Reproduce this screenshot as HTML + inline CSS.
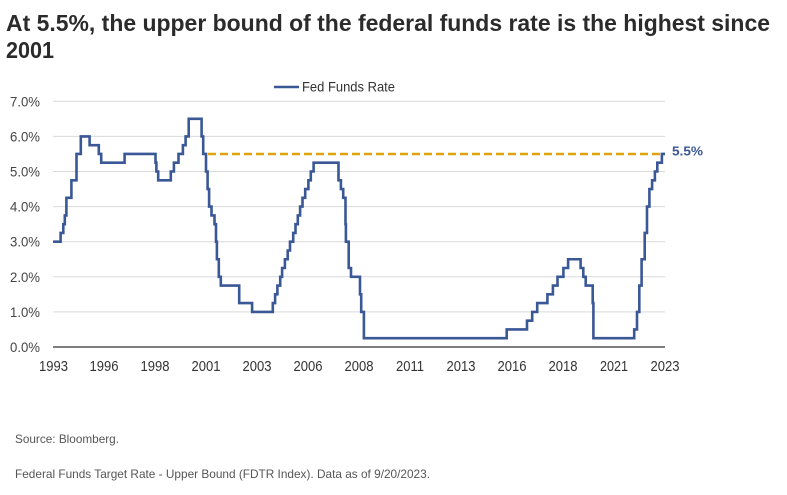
<!DOCTYPE html>
<html>
<head>
<meta charset="utf-8">
<style>
  html,body{margin:0;padding:0;background:#fff;}
  body{width:787px;height:495px;overflow:hidden;}
  svg{display:block;}
</style>
</head>
<body>
<svg width="787" height="495" viewBox="0 0 787 495" xmlns="http://www.w3.org/2000/svg">
  <rect width="787" height="495" fill="#ffffff"/>
  <!-- Title -->
  <text x="6" y="31" font-family="Liberation Sans, Arial, sans-serif" font-weight="bold" font-size="23" fill="#2b2b2b" textLength="764" lengthAdjust="spacingAndGlyphs">At 5.5%, the upper bound of the federal funds rate is the highest since</text>
  <text x="6" y="58" font-family="Liberation Sans, Arial, sans-serif" font-weight="bold" font-size="23" fill="#2b2b2b" textLength="48" lengthAdjust="spacingAndGlyphs">2001</text>

  <!-- Legend -->
  <line x1="274" y1="87" x2="299" y2="87" stroke="#3a5796" stroke-width="2.5"/>
  <text x="302" y="91.5" font-family="Liberation Sans, Arial, sans-serif" font-size="14" fill="#333" textLength="93" lengthAdjust="spacingAndGlyphs">Fed Funds Rate</text>

  <!-- Gridlines -->
  <g stroke="#d9d9d9" stroke-width="1">
    <line x1="53" y1="101.3" x2="665" y2="101.3"/>
    <line x1="53" y1="136.4" x2="665" y2="136.4"/>
    <line x1="53" y1="171.5" x2="665" y2="171.5"/>
    <line x1="53" y1="206.6" x2="665" y2="206.6"/>
    <line x1="53" y1="241.7" x2="665" y2="241.7"/>
    <line x1="53" y1="276.8" x2="665" y2="276.8"/>
    <line x1="53" y1="311.9" x2="665" y2="311.9"/>
  </g>
  <line x1="53" y1="347" x2="665" y2="347" stroke="#7f7f7f" stroke-width="2"/>

  <!-- Y labels -->
  <g font-family="Liberation Sans, Arial, sans-serif" font-size="14" fill="#444" text-anchor="end">
    <text x="40" y="106.3" textLength="30" lengthAdjust="spacingAndGlyphs">7.0%</text>
    <text x="40" y="141.4" textLength="30" lengthAdjust="spacingAndGlyphs">6.0%</text>
    <text x="40" y="176.5" textLength="30" lengthAdjust="spacingAndGlyphs">5.0%</text>
    <text x="40" y="211.6" textLength="30" lengthAdjust="spacingAndGlyphs">4.0%</text>
    <text x="40" y="246.7" textLength="30" lengthAdjust="spacingAndGlyphs">3.0%</text>
    <text x="40" y="281.8" textLength="30" lengthAdjust="spacingAndGlyphs">2.0%</text>
    <text x="40" y="316.9" textLength="30" lengthAdjust="spacingAndGlyphs">1.0%</text>
    <text x="40" y="352" textLength="30" lengthAdjust="spacingAndGlyphs">0.0%</text>
  </g>

  <!-- X labels -->
  <g font-family="Liberation Sans, Arial, sans-serif" font-size="14.5" fill="#333" text-anchor="middle">
    <text x="53.5" y="371" textLength="29" lengthAdjust="spacingAndGlyphs">1993</text>
    <text x="104" y="371" textLength="29" lengthAdjust="spacingAndGlyphs">1996</text>
    <text x="155" y="371" textLength="29" lengthAdjust="spacingAndGlyphs">1998</text>
    <text x="206" y="371" textLength="29" lengthAdjust="spacingAndGlyphs">2001</text>
    <text x="257" y="371" textLength="29" lengthAdjust="spacingAndGlyphs">2003</text>
    <text x="308" y="371" textLength="29" lengthAdjust="spacingAndGlyphs">2006</text>
    <text x="359" y="371" textLength="29" lengthAdjust="spacingAndGlyphs">2008</text>
    <text x="410" y="371" textLength="28" lengthAdjust="spacingAndGlyphs">2011</text>
    <text x="461" y="371" textLength="29" lengthAdjust="spacingAndGlyphs">2013</text>
    <text x="512" y="371" textLength="29" lengthAdjust="spacingAndGlyphs">2016</text>
    <text x="563" y="371" textLength="29" lengthAdjust="spacingAndGlyphs">2018</text>
    <text x="614" y="371" textLength="28" lengthAdjust="spacingAndGlyphs">2021</text>
    <text x="665" y="371" textLength="29" lengthAdjust="spacingAndGlyphs">2023</text>
  </g>

  <!-- Dashed 5.5% line -->
  <line x1="208" y1="154" x2="665" y2="154" stroke="#e0a30d" stroke-width="2.5" stroke-dasharray="8,4"/>

  <!-- Series -->
  <path fill="none" stroke="#3a5796" stroke-width="2.6" stroke-linejoin="miter"
    d="M53,241.7 H60.6 V232.9 H63.3 V224.15 H64.8 V215.4 H66.4 V197.8 H71.4 V180.3 H76.5 V153.95 H80.8 V136.4 H89.6 V145.2 H98.8 V153.95 H101.2 V162.7 H124.6 V153.95 H155.5 V162.7 H156.4 V171.5 H158.2 V180.3 H170.8 V171.5 H173.9 V162.7 H178.5 V153.95 H182.9 V145.2 H185.6 V136.4 H188.7 V118.85 H201.6 V136.4 H203.2 V153.95 H206.0 V171.5 H207.6 V189.05 H209.1 V206.6 H211.5 V215.4 H214.5 V224.15 H216.0 V241.7 H216.9 V259.25 H218.8 V276.8 H220.8 V285.6 H239.2 V303.1 H252.1 V311.9 H272.8 V303.1 H275.1 V294.35 H277.4 V285.6 H280.2 V276.8 H282.1 V268.0 H284.9 V259.25 H287.7 V250.5 H290.0 V241.7 H293.2 V232.9 H295.5 V224.15 H297.8 V215.4 H300.1 V206.6 H302.5 V197.8 H305.2 V189.05 H308.4 V180.3 H310.8 V171.5 H313.6 V162.7 H338.5 V180.3 H340.9 V189.05 H343.2 V197.8 H345.5 V224.15 H345.9 V241.7 H348.7 V268.0 H351.0 V276.8 H360.0 V294.35 H361.2 V311.9 H363.9 V338.2 H506.7 V329.45 H527.0 V320.7 H532.2 V311.9 H537.2 V303.1 H547.4 V294.35 H552.9 V285.6 H557.5 V276.8 H563.4 V268.0 H568.1 V259.25 H580.6 V268.0 H583.3 V276.8 H585.7 V285.6 H592.7 V303.1 H593.4 V338.2 H634.2 V329.45 H637.0 V311.9 H639.3 V285.6 H641.6 V259.25 H644.7 V232.9 H647.0 V206.6 H649.4 V189.05 H652.1 V180.3 H654.9 V171.5 H657.3 V162.7 H661.9 V153.95 H665"/>

  <!-- 5.5% label -->
  <text x="672" y="155.5" font-family="Liberation Sans, Arial, sans-serif" font-weight="bold" font-size="13" fill="#3a5796" textLength="31" lengthAdjust="spacingAndGlyphs">5.5%</text>

  <!-- Footer -->
  <text x="15" y="443" font-family="Liberation Sans, Arial, sans-serif" font-size="12" fill="#555" textLength="104" lengthAdjust="spacingAndGlyphs">Source: Bloomberg.</text>
  <text x="15" y="478" font-family="Liberation Sans, Arial, sans-serif" font-size="12" fill="#555" textLength="415" lengthAdjust="spacingAndGlyphs">Federal Funds Target Rate - Upper Bound (FDTR Index). Data as of 9/20/2023.</text>
</svg>
</body>
</html>
